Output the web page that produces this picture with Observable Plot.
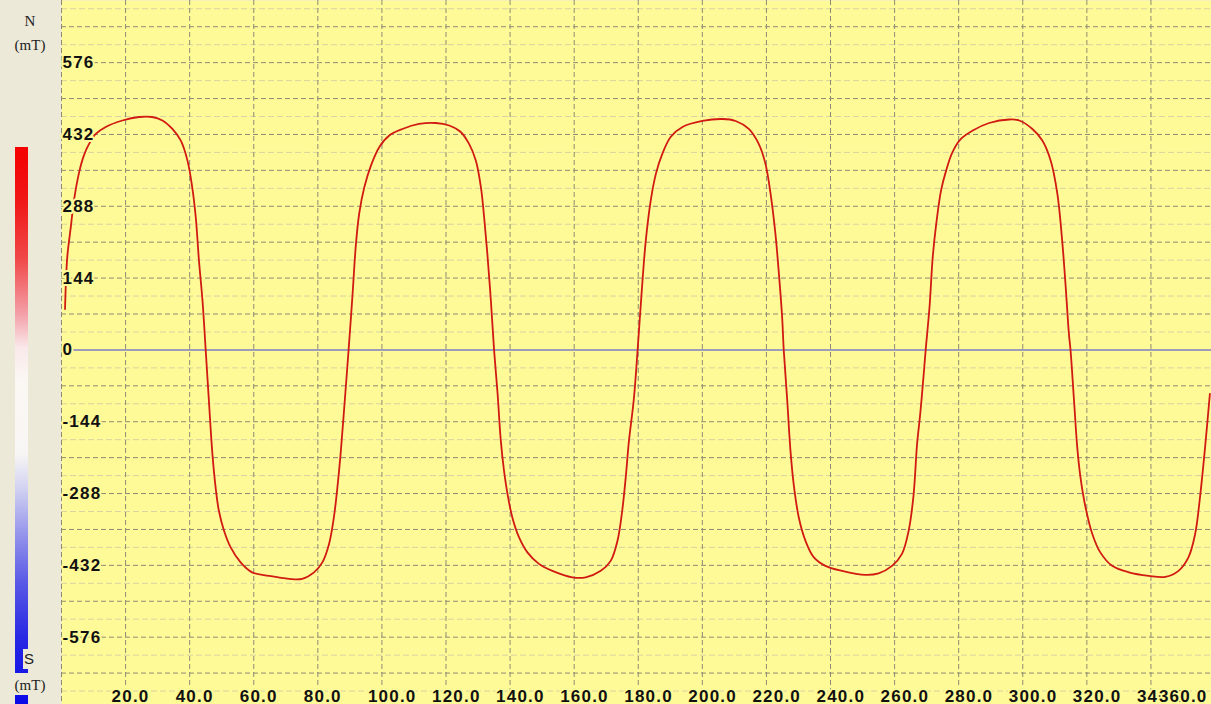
<!DOCTYPE html>
<html>
<head>
<meta charset="utf-8">
<script src="https://cdn.jsdelivr.net/npm/d3@7"></script>
<script src="https://cdn.jsdelivr.net/npm/@observablehq/plot@0.6"></script>
<style>
  html, body { margin: 0; padding: 0; background: #ECE9D8; overflow: hidden; }
  #wrap { position: relative; width: 1211px; height: 704px; background: #ECE9D8; }
  #chart { position: absolute; left: 0; top: 0; }
  #side { position: absolute; left: 0; top: 0; width: 60px; height: 704px; pointer-events: none; }
  #bar { position: absolute; left: 15px; top: 147px; width: 13px; height: 557px;
    background: linear-gradient(to bottom, #F40000 0%, #F01818 10%, #F04848 20%, #F3A0A8 30%, #FAE8EA 36%, #FBF8F4 42%, #F8F6F4 55%, #D4D4F2 61%, #9898EC 69%, #5A5AE6 78%, #2828E4 88%, #0A0AE8 100%); }
  .lbl { position: absolute; left: 0; width: 60px; text-align: center;
    font-family: "Liberation Serif", "DejaVu Serif", serif; font-size: 15px; color: #222; line-height: 16px; }
  #sbox { position: absolute; left: 23px; top: 649px; width: 14px; height: 20px; background: #ECE9D8;
    font-family: "Liberation Sans", Arial, sans-serif; font-size: 15px; color: #222; line-height: 20px; padding-left: 1px; }
  #mtbox { position: absolute; left: 0; top: 673px; width: 60px; height: 22px; background: #ECE9D8; }
</style>
</head>
<body>
<div id="wrap">
  <div id="chart"></div>
  <div id="side">
    <div id="bar"></div>
    <div class="lbl" style="top:13px">N</div>
    <div class="lbl" style="top:37px">(mT)</div>
    <div id="sbox">S</div>
    <div id="mtbox"><div class="lbl" style="top:4px">(mT)</div></div>
  </div>
</div>
<script>
// Rotation angle (deg) and magnetic field (mT)
const angle = [1.1, 1.8, 2.9, 3.9, 5.5, 7.0, 8.6, 10.7, 13.8, 19.0, 24.2, 28.3, 31.5, 34.6, 37.2, 39.3, 40.8, 41.9, 42.9, 44.0,
  45.0, 46.0, 47.1, 48.1, 49.1, 50.7, 52.8, 55.9, 59.5, 64.7, 71.0, 75.1, 78.8, 81.4, 83.5, 85.0, 86.1, 87.1, 88.4, 89.6,
  90.8, 91.9, 92.9, 94.5, 96.6, 99.2, 102.3, 106.4, 111.6, 116.8, 121.0, 124.6, 127.2, 129.3, 130.9, 131.9, 132.9, 134.0, 135.0, 136.1,
  137.1, 138.1, 139.2, 140.7, 142.8, 145.4, 149.0, 153.2, 159.4, 163.6, 168.3, 171.4, 173.5, 175.0, 176.1, 177.1, 178.6, 179.8, 181.0, 182.3,
  183.9, 185.5, 187.5, 190.1, 193.8, 200.0, 206.2, 210.4, 214.5, 217.6, 219.7, 221.3, 222.8, 223.9, 224.9, 225.4, 226.5, 227.5, 228.5, 230.1,
  232.2, 234.8, 238.4, 243.6, 250.9, 255.0, 259.2, 262.3, 264.4, 265.9, 267.0, 268.0, 269.0, 269.7, 270.9, 271.9, 273.0, 274.5, 276.1, 278.1,
  280.7, 284.4, 289.5, 295.8, 298.9, 303.0, 306.1, 308.7, 310.8, 312.3, 313.4, 314.4, 314.9, 316.0, 317.0, 318.0, 319.6, 321.7, 324.2, 327.9,
  333.1, 339.3, 344.5, 348.6, 351.7, 353.8, 355.3, 356.9, 358.4];
const field = [82, 186, 246, 300, 356, 390, 413, 433, 447, 460, 467, 467, 460, 443, 420, 380, 326, 266, 179, 99,
  0, -102, -209, -276, -322, -362, -396, -426, -446, -453, -459, -459, -446, -426, -389, -336, -276, -209, -102, 0,
  108, 213, 273, 326, 370, 407, 430, 443, 453, 455, 450, 437, 413, 380, 326, 266, 193, 99, 0, -88,
  -182, -242, -289, -336, -376, -406, -429, -443, -456, -456, -443, -423, -383, -322, -255, -182, -100, 0, 110, 216,
  300, 353, 393, 427, 447, 459, 463, 459, 443, 413, 373, 313, 233, 152, 66, 0, -102, -202, -269, -336,
  -383, -416, -433, -443, -451, -448, -433, -409, -362, -292, -190, -128, -55, 0, 86, 186, 253, 320, 360, 397,
  423, 440, 455, 462, 460, 443, 420, 380, 313, 219, 126, 32, 0, -102, -195, -255, -316, -369, -406, -433,
  -446, -453, -455, -443, -416, -369, -296, -195, -88];

// Axis ticks and labels
const yTicks = [576, 432, 288, 144, 0, -144, -288, -432, -576];
const yLabels = ["576", "432", "288", "144", "0", "-144", "-288", "-432", "-576"];
const xTicks = [20, 40, 60, 80, 100, 120, 140, 160, 180, 200, 220, 240, 260, 280, 300, 320, 340];
const xLabels = ["20.0", "40.0", "60.0", "80.0", "100.0", "120.0", "140.0", "160.0", "180.0", "200.0", "220.0", "240.0", "260.0", "280.0", "300.0", "320.0", "340.0"];
const lastXLabel = ["360.0"];

const data = angle.map((a, i) => ({angle: a, field: field[i]}));

const YELLOW = "#FEFA98";
const DARK = "#8E8A72";
const LIGHT = "#D8D3A2";
const RED = "#D01A12";

const majorY = d3.range(-720, 721, 72).filter(v => v !== 0);
const minorY = d3.range(-684, 685, 72);
const gridX = d3.range(0, 341, 20);

const labelStyle = {fontSize: 17, fontWeight: "bold", fill: "#111", stroke: YELLOW, strokeWidth: 4};

const chart = Plot.plot({
  width: 1211,
  height: 704,
  marginLeft: 61, marginRight: 0, marginTop: 0, marginBottom: 0,
  x: {domain: [0, 358.9], axis: null},
  y: {domain: [-711, 700.6], axis: null},
  style: {background: "none", fontFamily: "'Liberation Sans', Arial, sans-serif", letterSpacing: "1.2px", overflow: "hidden"},
  marks: [
    Plot.frame({fill: YELLOW, stroke: null}),
    Plot.ruleY(minorY, {stroke: LIGHT, strokeDasharray: "6,3", strokeWidth: 1}),
    Plot.ruleY(majorY, {stroke: DARK, strokeDasharray: "5,3", strokeWidth: 1}),
    Plot.ruleX(gridX, {stroke: DARK, strokeDasharray: "5,3", strokeWidth: 1}),
    Plot.ruleY([0], {stroke: "#7C7CC4", strokeWidth: 1.5}),
    Plot.line(data, {x: "angle", y: "field", stroke: RED, strokeWidth: 1.8, curve: "catmull-rom"}),
    Plot.text(yTicks, {x: 0, y: d => d, text: (d, i) => yLabels[i], textAnchor: "start", dx: 1, ...labelStyle}),
    Plot.text(xTicks, {x: d => d, text: (d, i) => xLabels[i], frameAnchor: "bottom", lineAnchor: "bottom", textAnchor: "start", dx: -14, dy: -3, ...labelStyle}),
    Plot.text(lastXLabel, {frameAnchor: "bottom-right", lineAnchor: "bottom", textAnchor: "end", dx: -4, dy: -3, text: d => d, ...labelStyle})
  ]
});
document.getElementById("chart").appendChild(chart);
</script>
</body>
</html>
